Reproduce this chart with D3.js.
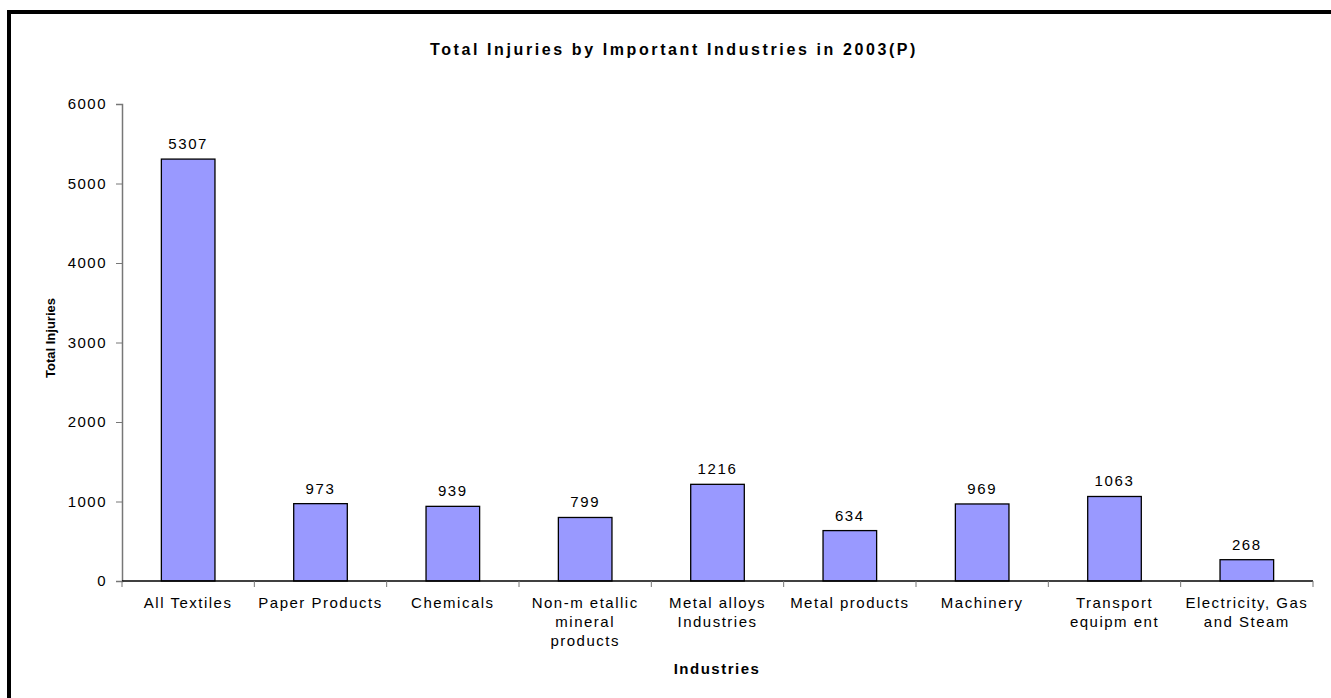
<!DOCTYPE html>
<html>
<head>
<meta charset="utf-8">
<script src="https://cdn.jsdelivr.net/npm/d3@7"></script>
<style>
  body { margin: 0; background: #fff; }
  svg { font-family: "Liberation Sans", Arial, sans-serif; }
</style>
</head>
<body>
<svg width="1331" height="698"></svg>
<script>
const width = 1331, height = 698;

// data
const industries = [
  ["All Textiles"],
  ["Paper Products"],
  ["Chemicals"],
  ["Non-m etallic", "mineral", "products"],
  ["Metal alloys", "Industries"],
  ["Metal products"],
  ["Machinery"],
  ["Transport", "equipm ent"],
  ["Electricity, Gas", "and Steam"]
];
const injuries = [5307, 973, 939, 799, 1216, 634, 969, 1063, 268];
const yTicks = [0, 1000, 2000, 3000, 4000, 5000, 6000];

let margin = {top: 104, right: 18, bottom: 117, left: 122},
    plotWidth = width - margin.left - margin.right,
    plotHeight = height - margin.top - margin.bottom;

const svg = d3.select("svg");

// outer frame
svg.append("rect")
  .attr("x", 9).attr("y", 12)
  .attr("width", width + 20).attr("height", height + 20)
  .attr("fill", "none")
  .attr("stroke", "#000")
  .attr("stroke-width", 4);

const g = svg.append("g")
  .attr("transform", `translate(${margin.left}, ${margin.top})`);

const keys = industries.map(d => d.join(" "));

const x = d3.scaleBand()
  .domain(keys)
  .range([0, plotWidth])
  .paddingInner(0.595)
  .paddingOuter(0.2975);

const y = d3.scaleLinear()
  .domain([0, 6000])
  .range([plotHeight, 0]);

// title
svg.append("text")
  .attr("x", 674)
  .attr("y", 55)
  .attr("text-anchor", "middle")
  .attr("font-size", "16px")
  .attr("font-weight", "bold")
  .attr("letter-spacing", "2.6px")
  .text("Total Injuries by Important Industries in 2003(P)");

// y axis
const yAxis = g.append("g")
  .call(d3.axisLeft(y).tickValues(yTicks).tickFormat(d3.format("d")).tickSize(6).tickPadding(9));
yAxis.select(".domain").attr("stroke", "#777").attr("stroke-width", 1.5);
yAxis.selectAll(".tick line").attr("stroke", "#777");
yAxis.selectAll("text")
  .attr("font-size", "15px")
  .attr("letter-spacing", "1.5px")
  .attr("fill", "#000");

// bars
g.selectAll("rect.bar").data(injuries).enter().append("rect")
  .attr("class", "bar")
  .attr("x", (d, i) => x(keys[i]))
  .attr("y", d => y(d))
  .attr("width", x.bandwidth())
  .attr("height", d => plotHeight - y(d))
  .attr("fill", "#9999FF")
  .attr("stroke", "#000")
  .attr("stroke-width", 1.3);

// value labels
g.selectAll("text.val").data(injuries).enter().append("text")
  .attr("class", "val")
  .attr("x", (d, i) => x(keys[i]) + x.bandwidth() / 2)
  .attr("y", d => y(d) - 10)
  .attr("text-anchor", "middle")
  .attr("font-size", "15px")
  .attr("letter-spacing", "1.6px")
  .text(d => d);

// x axis
const xAxis = g.append("g")
  .attr("transform", `translate(0, ${plotHeight})`);
xAxis.append("line")
  .attr("x1", 0).attr("x2", plotWidth)
  .attr("stroke", "#000").attr("stroke-width", 1.5);
xAxis.selectAll("line.tick").data(d3.range(keys.length + 1)).enter().append("line")
  .attr("class", "tick")
  .attr("x1", d => d * plotWidth / keys.length)
  .attr("x2", d => d * plotWidth / keys.length)
  .attr("y1", 0).attr("y2", 6)
  .attr("stroke", "#777");

const labels = xAxis.selectAll("text.cat").data(industries).enter().append("text")
  .attr("class", "cat")
  .attr("x", (d, i) => x(keys[i]) + x.bandwidth() / 2)
  .attr("y", 27)
  .attr("text-anchor", "middle")
  .attr("font-size", "15px")
  .attr("letter-spacing", "1.5px");
labels.each(function(d) {
  const t = d3.select(this);
  d.forEach((line, j) => {
    t.append("tspan")
      .attr("x", t.attr("x"))
      .attr("dy", j === 0 ? 0 : 19)
      .text(line);
  });
});

// axis titles
svg.append("text")
  .attr("x", 717)
  .attr("y", 674)
  .attr("text-anchor", "middle")
  .attr("font-size", "15px")
  .attr("font-weight", "bold")
  .attr("letter-spacing", "1.5px")
  .text("Industries");

svg.append("text")
  .attr("transform", "translate(55, 338) rotate(-90)")
  .attr("text-anchor", "middle")
  .attr("font-size", "13px")
  .attr("font-weight", "bold")
  .text("Total Injuries");
</script>
</body>
</html>
